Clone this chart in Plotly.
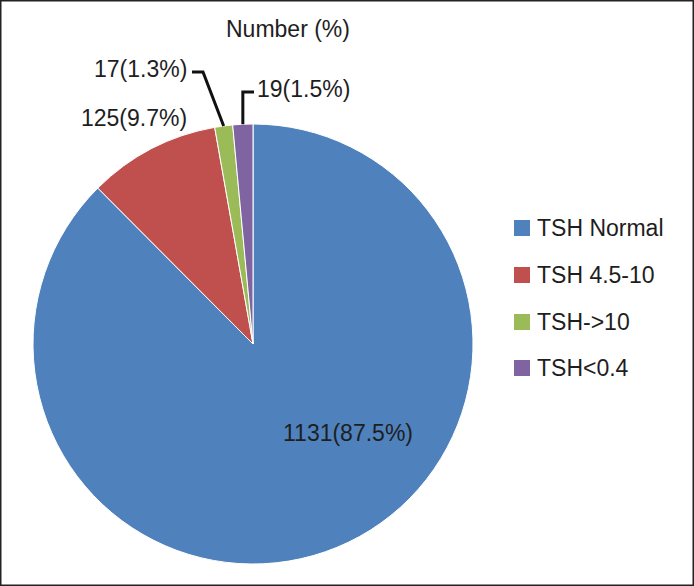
import math
import plotly.graph_objects as go

# data
labels = ["TSH Normal", "TSH 4.5-10", "TSH->10", "TSH<0.4"]
counts = [1131, 125, 17, 19]
percents = [87.5, 9.7, 1.3, 1.5]
colors = ["#4F81BD", "#C0504D", "#9BBB59", "#8064A2"]

W, H = 694, 586
cx, cy, R = 253, 344, 220   # pie centre / radius in px
FONT = "Liberation Sans, Arial, sans-serif"
FS = 23
TXT = "#1e1e1e"


def px(x):
    return x / W


def py(y):
    return 1 - y / H


fig = go.Figure(go.Pie(
    labels=labels, values=counts, sort=False, direction="clockwise", rotation=0,
    marker=dict(colors=colors, line=dict(color="white", width=1)),
    textinfo="none", hoverinfo="label+value+percent", showlegend=False,
    domain=dict(x=[px(cx - R), px(cx + R)], y=[py(cy + R), py(cy - R)]),
))

texts = [f"{c}({p}%)" for c, p in zip(counts, percents)]

# point on the rim at the middle of each slice
total = sum(counts)
rim = []
acc = 0
for c in counts:
    mid = (acc + c / 2) / total * 2 * math.pi
    rim.append((cx + R * math.sin(mid), cy - R * math.cos(mid)))
    acc += c

font = dict(size=FS, color=TXT, family=FONT)


def label(x, y, text, anchor="center"):
    return dict(x=px(x), y=py(y), text=text, showarrow=False,
                xanchor=anchor, yanchor="middle", font=font)


annotations = [
    label(288, 29, "Number (%)"),
    label(348, 433, texts[0]),
    label(189, 118, texts[1], "right"),
    label(189, 69, texts[2], "right"),
    label(255, 89, texts[3], "left"),
]

shapes = [
    dict(type="rect", xref="paper", yref="paper", x0=0, y0=0, x1=1, y1=1,
         line=dict(color="#222", width=3)),
]

# leader lines
gx, gy = rim[2]
shapes.append(dict(type="path", xref="paper", yref="paper",
                   path=f"M {px(192)},{py(72)} L {px(203)},{py(72)} L {px(gx)},{py(gy)}",
                   line=dict(color="#111", width=3)))
vx, vy = rim[3]
shapes.append(dict(type="path", xref="paper", yref="paper",
                   path=f"M {px(254)},{py(92)} L {px(vx)},{py(92)} L {px(vx)},{py(vy)}",
                   line=dict(color="#111", width=3)))

# legend drawn by hand
leg_y = [228, 275, 322, 368]
for lab, col, ly in zip(labels, colors, leg_y):
    shapes.append(dict(type="rect", xref="paper", yref="paper",
                       x0=px(514), x1=px(530), y0=py(ly + 8), y1=py(ly - 8),
                       fillcolor=col, line=dict(width=0)))
    annotations.append(label(535, ly, lab, "left"))

fig.update_layout(
    width=W, height=H, margin=dict(l=0, r=0, t=0, b=0),
    paper_bgcolor="white", plot_bgcolor="white",
    annotations=annotations, shapes=shapes,
)

fig.write_html("out.html", config={"displayModeBar": False},
               post_script="document.body.style.margin='0';")
